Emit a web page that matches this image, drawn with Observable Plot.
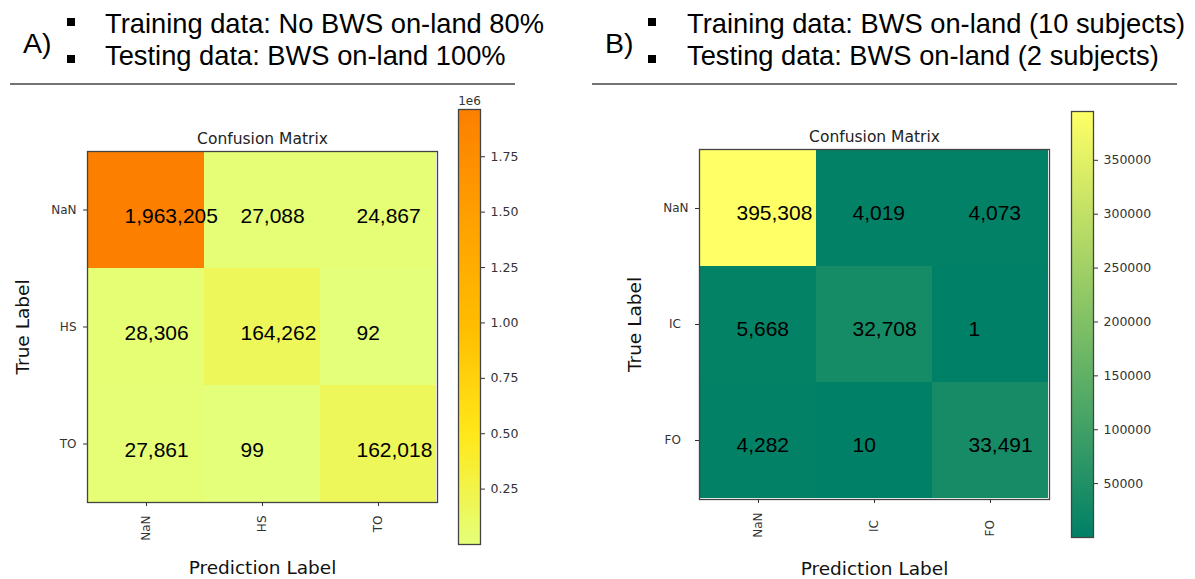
<!DOCTYPE html>
<html><head><meta charset="utf-8">
<script src="https://cdn.jsdelivr.net/npm/d3@7"></script>
<script src="https://cdn.jsdelivr.net/npm/@observablehq/plot@0.6"></script>
<style>
body{margin:0;background:#fff;}
#root{position:relative;width:1195px;height:579px;overflow:hidden;background:#fff;}
#root svg{position:absolute;top:0;max-width:none;}
</style></head><body><div id="root"></div>
<script>
// ---- data ----
const panelLetters = ["A)", "B)"];
const headerA = ["Training data: No BWS on-land 80%", "Testing data: BWS on-land 100%"];
const headerB = ["Training data: BWS on-land (10 subjects)", "Testing data: BWS on-land (2 subjects)"];
const classesA = ["NaN", "HS", "TO"];
const tickLabelsA = ["NaN", "HS", "TO"];
const valuesA = [
  [1963205, 27088, 24867],
  [28306, 164262, 92],
  [27861, 99, 162018]
];
const classesB = ["NaN", "IC", "FO"];
const tickLabelsB = ["NaN", "IC\u00a0\u00a0", "FO\u00a0\u00a0"];
const valuesB = [
  [395308, 4019, 4073],
  [5668, 32708, 1],
  [4282, 10, 33491]
];
const barTicksA = [250000, 500000, 750000, 1000000, 1250000, 1500000, 1750000];
const barTickLabelsA = ["0.25", "0.50", "0.75", "1.00", "1.25", "1.50", "1.75"];
const barTicksB = [50000, 100000, 150000, 200000, 250000, 300000, 350000];
const barTickLabelsB = ["50000", "100000", "150000", "200000", "250000", "300000", "350000"];
const wistia = ["#e4ff7a", "#ffe81a", "#ffbd00", "#ffa000", "#fc7f00"];
const summer = ["#008066", "#ffff66"];
const titleText = "Confusion Matrix";
const xLabel = "Prediction Label";
const yLabel = "True Label";

const root = document.getElementById("root");
const fmt = d3.format(",");

// ---- header ----
const hdr = d3.create("svg").attr("width", 1195).attr("height", 100)
  .style("left", "0px").style("font-family", "'Liberation Sans', Arial, sans-serif");
function header(letterX, letter, bulletX, textX, lines, ruleX1, ruleX2) {
  hdr.append("text").attr("x", letterX).attr("y", 53).attr("font-size", 28.5).text(letter);
  [33, 65].forEach((y, i) => {
    hdr.append("rect").attr("x", bulletX).attr("y", i === 0 ? 18 : 55).attr("width", 8).attr("height", 8).attr("fill", "#000");
    hdr.append("text").attr("x", textX).attr("y", y).attr("font-size", 27.3).text(lines[i]);
  });
  hdr.append("line").attr("x1", ruleX1).attr("x2", ruleX2).attr("y1", 84).attr("y2", 84)
    .attr("stroke", "#444").attr("stroke-width", 1.5);
}
header(23, panelLetters[0], 67, 105, headerA, 10, 515);
header(605, panelLetters[1], 648, 687, headerB, 592, 1177);
root.appendChild(hdr.node());

// ---- matrices ----
function matrix({classes, tickLabels, values, colors, left, mLeft, mTop, mBottom, textDy, predDy}) {
  const data = [];
  classes.forEach((t, i) => classes.forEach((p, j) => data.push({truth: t, pred: p, value: values[i][j]})));
  const ext = d3.extent(data, d => d.value);
  const lab = new Map(classes.map((c, i) => [c, tickLabels[i]]));
  const svg = Plot.plot({
    width: mLeft + 350 + 13, height: 579,
    marginLeft: mLeft, marginRight: 13, marginTop: mTop, marginBottom: mBottom,
    style: {fontFamily: "'DejaVu Sans', sans-serif", background: "transparent", overflow: "visible"},
    x: {type: "band", domain: classes, padding: 0, axis: null},
    y: {type: "band", domain: classes, padding: 0, axis: null},
    color: {type: "linear", domain: ext, range: colors},
    marks: [
      Plot.cell(data, {x: "pred", y: "truth", fill: "value", inset: 0, shapeRendering: "crispEdges"}),
      Plot.frame({stroke: "#444", strokeWidth: 1.3}),
      Plot.axisX({anchor: "bottom", tickRotate: -90, tickSize: 4, tickPadding: 9, fontSize: 12, color: "#333", label: null, tickFormat: d => lab.get(d)}),
      Plot.axisY({anchor: "left", tickSize: 4, tickPadding: 7, fontSize: 12, color: "#333", label: null, tickFormat: d => lab.get(d)}),
      Plot.text(data, {x: "pred", y: "truth", text: d => fmt(d.value), textAnchor: "start", lineAnchor: "bottom",
        dx: -22, dy: textDy, fontSize: 21, fontFamily: "'Liberation Sans', Arial, sans-serif", fill: "#000"}),
      Plot.text([titleText], {frameAnchor: "top", lineAnchor: "bottom", dy: -8, fontSize: 15.5, fill: "#222"}),
      Plot.text([yLabel], {frameAnchor: "left", textAnchor: "middle", lineAnchor: "middle", rotate: -90, dx: -64, fontSize: 18.5, fill: "#111"}),
      Plot.text([xLabel], {frameAnchor: "bottom", textAnchor: "middle", lineAnchor: "middle", dy: predDy, fontSize: 18.5, fill: "#111"})
    ]
  });
  svg.style.left = left + "px";
  root.appendChild(svg);
  return ext;
}

function colorbar({ext, colors, ticks, tickLabels, left, mTop, mBottom, offsetLabel}) {
  const n = 300;
  const steps = d3.range(n).map(i => ({a: ext[0] + (ext[1] - ext[0]) * i / n, b: ext[0] + (ext[1] - ext[0]) * (i + 1) / n}));
  const lab = new Map(ticks.map((t, i) => [t, tickLabels[i]]));
  const marks = [
    Plot.rect(steps, {x1: 0, x2: 1, y1: "a", y2: "b", fill: d => (d.a + d.b) / 2, shapeRendering: "crispEdges"}),
    Plot.frame({stroke: "#444", strokeWidth: 1.3}),
    Plot.axisY({anchor: "right", ticks, tickFormat: d => lab.get(d), tickSize: 4, tickPadding: 6, fontSize: 12.5, color: "#333", label: null})
  ];
  if (offsetLabel) marks.push(Plot.text([offsetLabel], {frameAnchor: "top", lineAnchor: "bottom", dy: -5, fontSize: 12, fill: "#333"}));
  const svg = Plot.plot({
    width: 110, height: 579,
    marginLeft: 18, marginRight: 70, marginTop: mTop, marginBottom: mBottom,
    style: {fontFamily: "'DejaVu Sans', sans-serif", background: "transparent", overflow: "visible"},
    x: {domain: [0, 1], axis: null},
    y: {domain: ext, axis: null},
    color: {type: "linear", domain: ext, range: colors},
    marks
  });
  svg.style.left = left + "px";
  root.appendChild(svg);
}

const extA = matrix({classes: classesA, tickLabels: tickLabelsA, values: valuesA, colors: wistia,
  left: 0, mLeft: 87, mTop: 151, mBottom: 77, textDy: 12.5, predDy: 66});
colorbar({ext: extA, colors: wistia, ticks: barTicksA, tickLabels: barTickLabelsA, left: 440, mTop: 109, mBottom: 35, offsetLabel: "1e6"});

const extB = matrix({classes: classesB, tickLabels: tickLabelsB, values: valuesB, colors: summer,
  left: 600, mLeft: 99, mTop: 149, mBottom: 80, textDy: 11, predDy: 70});
colorbar({ext: extB, colors: summer, ticks: barTicksB, tickLabels: barTickLabelsB, left: 1053, mTop: 111, mBottom: 42});
</script></body></html>
